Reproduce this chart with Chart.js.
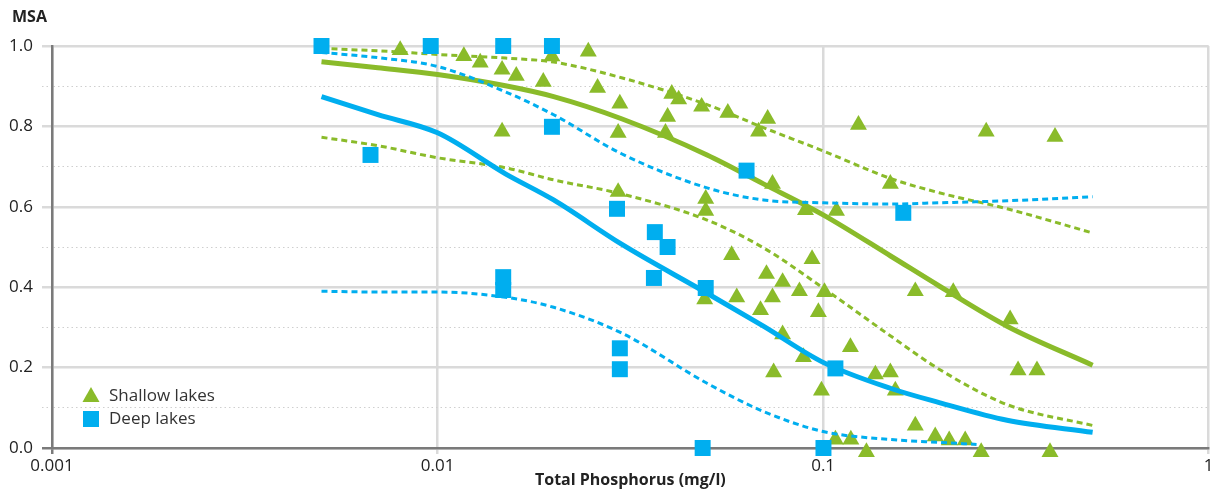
<!DOCTYPE html>
<html lang="en">
<head>
    <meta charset="UTF-8">
    <title>MSA vs Total Phosphorus</title>
    <script src="https://cdn.jsdelivr.net/npm/chart.js"></script>
    <style>
        body {
            margin: 0;
            padding: 0;
            background: white;
        }
        .chart-container {
            width: 1220px;
            height: 493px;
        }
    </style>
</head>
<body>
    <div class="chart-container">
        <canvas id="msaChart"></canvas>
    </div>

    <script>
        const shallowP = [0.008, 0.0117, 0.0129, 0.0147, 0.016, 0.0198, 0.0246, 0.0188, 0.0147, 0.026,
                          0.0297, 0.0294, 0.0405, 0.0422, 0.0395, 0.039, 0.0484, 0.0566, 0.0718, 0.068,
                          0.0739, 0.09, 0.1083, 0.1494, 0.1235, 0.2648, 0.3994, 0.0294, 0.0496, 0.0496,
                          0.0579, 0.0936, 0.0713, 0.0785, 0.0868, 0.1008, 0.0739, 0.0597, 0.0493, 0.0688,
                          0.0972, 0.0785, 0.1177, 0.0889, 0.0744, 0.1366, 0.1494, 0.1539, 0.099, 0.1734,
                          0.2175, 0.3055, 0.3203, 0.3586, 0.1734, 0.1953, 0.2123, 0.2336, 0.257, 0.1295,
                          0.3876, 0.1076, 0.118];
        const shallowMSA = [0.99, 0.975, 0.959, 0.941, 0.926, 0.974, 0.986, 0.911, 0.787, 0.896,
                            0.857, 0.784, 0.881, 0.867, 0.824, 0.784, 0.849, 0.834, 0.819, 0.787,
                            0.657, 0.592, 0.59, 0.657, 0.804, 0.787, 0.774, 0.637, 0.62, 0.59,
                            0.48, 0.47, 0.433, 0.413, 0.39, 0.388, 0.375, 0.375, 0.37, 0.343,
                            0.338, 0.283, 0.251, 0.226, 0.188, 0.183, 0.188, 0.143, 0.143, 0.39,
                            0.388, 0.32, 0.193, 0.193, 0.056, 0.029, 0.019, 0.019, -0.01, -0.01,
                            -0.01, 0.021, 0.021];

        const deepP = [0.005, 0.0096, 0.0148, 0.0198, 0.0067, 0.0198, 0.0633, 0.0292, 0.0366, 0.0395,
                       0.0364, 0.0148, 0.0148, 0.0297, 0.0297, 0.0496, 0.1614, 0.1076, 0.0487, 0.1002];
        const deepMSA = [1.0, 1.0, 1.0, 1.0, 0.729, 0.799, 0.69, 0.595, 0.537, 0.5,
                         0.423, 0.425, 0.393, 0.248, 0.196, 0.398, 0.585, 0.198, 0.0, 0.0];

        // fitted curves and bands, sampled from the figure
        const curveP = [0.005, 0.007, 0.01, 0.015, 0.02, 0.03, 0.05, 0.07, 0.1, 0.15, 0.2, 0.3, 0.5];
        const shallowFit = [0.961, 0.946, 0.929, 0.901, 0.874, 0.819, 0.729, 0.657, 0.58, 0.477, 0.403, 0.303, 0.206];
        const shallowUpper = [0.994, 0.988, 0.979, 0.97, 0.96, 0.921, 0.854, 0.797, 0.739, 0.67, 0.635, 0.595, 0.535];
        const shallowLower = [0.773, 0.752, 0.722, 0.697, 0.667, 0.632, 0.567, 0.498, 0.398, 0.278, 0.196, 0.108, 0.056];
        const deepFit = [0.874, 0.829, 0.784, 0.682, 0.617, 0.507, 0.385, 0.303, 0.213, 0.148, 0.113, 0.069, 0.039];
        const deepUpper = [0.984, 0.971, 0.949, 0.886, 0.829, 0.732, 0.647, 0.617, 0.61, 0.607, 0.61, 0.615, 0.625];
        const deepLowerP = [0.005, 0.007, 0.01, 0.015, 0.02, 0.03, 0.05, 0.07, 0.1, 0.15, 0.2, 0.25];
        const deepLower = [0.39, 0.388, 0.388, 0.375, 0.35, 0.286, 0.161, 0.091, 0.041, 0.021, 0.014, 0.009];

        const xTicks = [0.001, 0.01, 0.1, 1];

        const GREEN = '#8abb2a';
        const BLUE = '#00aeef';
        const GRID = '#dadada';
        const AXIS = '#7a7a7a';
        const FONT = "'Open Sans', sans-serif";

        const pts = (xs, ys) => xs.map((x, i) => ({ x: x, y: ys[i] }));

        const lineSet = (label, xs, ys, color, dashed, order) => ({
            type: 'line',
            label: label,
            data: pts(xs, ys),
            borderColor: color,
            borderWidth: dashed ? 3 : 5,
            borderDash: dashed ? [6, 4] : [],
            pointRadius: 0,
            fill: false,
            cubicInterpolationMode: 'monotone',
            clip: false,
            order: order
        });

        // axis labels and legend drawn on the canvas
        const extrasPlugin = {
            id: 'extras',
            afterDraw(chart) {
                const ctx = chart.ctx;
                ctx.save();
                ctx.fillStyle = '#222';
                ctx.font = 'bold 16px ' + FONT;
                ctx.textAlign = 'left';
                ctx.textBaseline = 'middle';
                ctx.fillText('MSA', 12, 17);

                const lx = 91, ly = [396, 419];
                // triangle
                ctx.fillStyle = GREEN;
                ctx.beginPath();
                ctx.moveTo(lx, ly[0] - 9);
                ctx.lineTo(lx + 8.5, ly[0] + 6);
                ctx.lineTo(lx - 8.5, ly[0] + 6);
                ctx.closePath();
                ctx.fill();
                // square
                ctx.fillStyle = BLUE;
                ctx.fillRect(lx - 8, ly[1] - 8, 16, 16);
                ctx.font = '17px ' + FONT;
                ctx.fillStyle = '#333';
                ctx.fillText('Shallow lakes', 109, ly[0]);
                ctx.fillText('Deep lakes', 109, ly[1]);
                ctx.restore();
            }
        };

        const isMinor = v => Math.round(v * 10) % 2 !== 0;

        const ctx = document.getElementById('msaChart').getContext('2d');
        const msaChart = new Chart(ctx, {
            type: 'scatter',
            data: {
                datasets: [
                    {
                        label: 'Deep lakes',
                        data: pts(deepP, deepMSA),
                        pointStyle: 'rect',
                        pointRadius: 11.3,
                        pointHoverRadius: 11.3,
                        backgroundColor: BLUE,
                        borderWidth: 0,
                        clip: false,
                        order: 0
                    },
                    lineSet('Deep fit', curveP, deepFit, BLUE, false, 1),
                    lineSet('Deep upper', curveP, deepUpper, BLUE, true, 1),
                    lineSet('Deep lower', deepLowerP, deepLower, BLUE, true, 1),
                    {
                        label: 'Shallow lakes',
                        data: pts(shallowP, shallowMSA),
                        pointStyle: 'triangle',
                        pointRadius: 9.8,
                        pointHoverRadius: 9.8,
                        backgroundColor: GREEN,
                        borderWidth: 0,
                        clip: false,
                        order: 2
                    },
                    lineSet('Shallow fit', curveP, shallowFit, GREEN, false, 3),
                    lineSet('Shallow upper', curveP, shallowUpper, GREEN, true, 3),
                    lineSet('Shallow lower', curveP, shallowLower, GREEN, true, 3)
                ]
            },
            options: {
                responsive: true,
                maintainAspectRatio: false,
                animation: false,
                layout: {
                    padding: { top: 46, right: 7, left: 0, bottom: 0 }
                },
                plugins: {
                    legend: { display: false },
                    tooltip: { enabled: false }
                },
                scales: {
                    x: {
                        type: 'logarithmic',
                        min: 0.001,
                        max: 1,
                        afterBuildTicks: scale => {
                            scale.ticks = xTicks.map(v => ({ value: v }));
                        },
                        afterFit: scale => { scale.height = 45; },
                        ticks: {
                            color: '#222',
                            font: { family: FONT, size: 17 },
                            padding: 2,
                            maxRotation: 0,
                            autoSkip: false,
                            callback: v => String(v)
                        },
                        grid: {
                            color: GRID,
                            lineWidth: 2.5,
                            tickLength: 6,
                            tickColor: c => (c.index === 0 ? AXIS : GRID)
                        },
                        border: { color: AXIS, width: 2.5 },
                        title: {
                            display: true,
                            text: 'Total Phosphorus (mg/l)',
                            color: '#222',
                            font: { family: FONT, size: 16, weight: 'bold' },
                            padding: { top: 0, bottom: 3 }
                        }
                    },
                    y: {
                        min: 0,
                        max: 1,
                        afterFit: scale => { scale.width = 52; },
                        ticks: {
                            stepSize: 0.1,
                            color: '#222',
                            font: { family: FONT, size: 17 },
                            padding: 9,
                            callback: v => (isMinor(v) ? '' : v.toFixed(1))
                        },
                        grid: {
                            color: c => (c.tick && isMinor(c.tick.value) ? '#cfcfcf' : GRID),
                            lineWidth: c => (c.tick && isMinor(c.tick.value) ? 1 : 2.5),
                            tickLength: 10,
                            tickColor: c => (c.tick && c.tick.value === 0 ? AXIS : (c.tick && isMinor(c.tick.value) ? '#cfcfcf' : GRID)),
                            tickBorderDash: c => (c.tick && isMinor(c.tick.value) ? [1.5, 3] : [])
                        },
                        border: {
                            color: AXIS,
                            width: 2.5,
                            dash: c => (c.tick && isMinor(c.tick.value) ? [1.5, 3] : [])
                        }
                    }
                }
            },
            plugins: [extrasPlugin]
        });
    </script>
</body>
</html>
